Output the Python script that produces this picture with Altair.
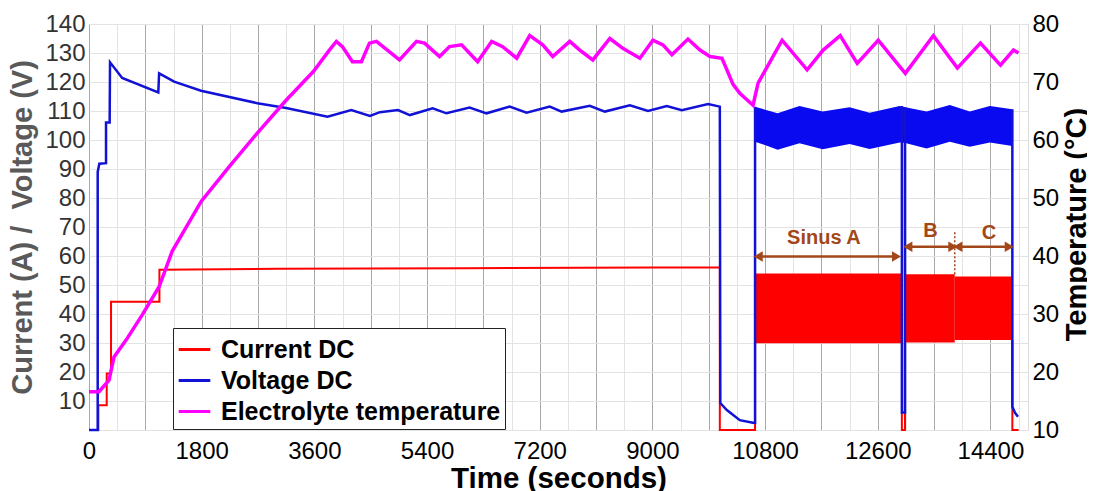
import altair as alt
import pandas as pd

# ---------------- data ----------------
# Current DC, line part (A); seg separates disconnected pieces
cur_t = [0, 149, 149, 283, 283, 352, 352, 1125, 1125, 3000, 6000, 9000, 10077, 10077, 10640, 10640,
         12985, 12985, 13035, 13035,
         14750, 14750, 14850]
cur_v = [0, 0, 8.5, 8.5, 19.5, 19.5, 44.2, 44.2, 55.3, 55.6, 55.8, 56.0, 56.0, 0, 0, 30,
         6, 0, 0, 6,
         31, 0, 0]
cur_seg = [1] * 16 + [2] * 4 + [3] * 3

# Current sinus bands (A)
band_name = ["Sinus A", "B", "C"]
band_t0 = [10640, 13035, 13830]
band_t1 = [12985, 13830, 14750]
band_lo = [29.9, 30.2, 31.0]
band_hi = [54.0, 53.7, 52.9]

# Voltage DC, line part (V)
volt_t = [0, 139, 139, 165, 272, 272, 330, 336, 530, 1107, 1120, 1360, 1790, 2690, 3150, 3810,
          4190, 4488, 4647, 4935, 5126, 5490, 5710, 6080, 6350, 6720, 6990, 7360, 7550, 8000,
          8240, 8640, 8930, 9230, 9470, 9890, 10077, 10085, 10189, 10396, 10604, 10640, 10640,
          12985, 12985, 13035, 13035,
          14750, 14750, 14790, 14840]
volt_v = [0, 0, 89, 91.8, 92, 106, 106, 126.8, 121.4, 116.4, 123, 120.1, 117, 112.7, 111, 108,
          110.3, 108.3, 109.6, 110.3, 108.6, 110.9, 109.2, 111.2, 109.2, 111.5, 109.4, 111.5, 109.8, 111.8,
          109.8, 112.0, 110.0, 111.7, 110.3, 112.4, 111.5, 9.3, 6.9, 3.4, 2.5, 2.5, 111.5,
          111.7, 6, 6, 111.3,
          110.6, 8, 6, 4.6]
volt_seg = [1] * 43 + [2] * 4 + [3] * 4

# Voltage sinus envelope (V)
vb_t = [10640, 10830, 11000, 11350, 11720, 12150, 12470, 12950, 13040, 13380, 13750, 14070, 14390, 14750]
vb_top = [111.5, 110.3, 109.2, 111.7, 109.8, 111.3, 109.4, 111.7, 111.3, 109.8, 112.1, 109.8, 111.7, 110.6]
vb_bot = [99.4, 98.0, 96.6, 98.9, 96.8, 98.6, 96.9, 99.1, 99.0, 97.1, 99.4, 97.7, 99.1, 97.9]

# Electrolyte temperature (°C)
temp_t = [0, 160, 320, 400, 592, 848, 1120, 1328, 1792, 2240, 2688, 3152, 3584, 3840, 3952, 4048,
          4208, 4352, 4480, 4592, 4960, 5232, 5360, 5600, 5760, 5952, 6208, 6432, 6608, 6832,
          7040, 7248, 7408, 7680, 7840, 8048, 8320, 8528, 8800, 9008, 9168, 9312, 9568, 9760,
          9920, 10112, 10288, 10400, 10608, 10688, 11072, 11472, 11728, 12000, 12272, 12608,
          13040, 13488, 13872, 14240, 14560, 14768, 14848]
temp_v = [16.6, 16.6, 18.6, 22.6, 25.5, 29.8, 34.7, 40.8, 49.4, 55.4, 61.2, 66.9, 71.8, 75.5, 77.0, 76.1,
          73.5, 73.5, 76.7, 77.0, 73.8, 77.0, 76.7, 74.4, 76.1, 76.4, 73.5, 77.0, 76.1, 74.1,
          78.0, 76.4, 74.4, 77.0, 75.5, 73.8, 77.5, 75.8, 74.1, 77.2, 76.4, 74.7, 77.4, 75.5,
          74.4, 74.1, 69.6, 68.0, 66.0, 69.8, 77.2, 72.1, 75.5, 78.0, 73.2, 77.2,
          71.5, 78.0, 72.4, 76.7, 72.9, 75.5, 75.0]

# Annotations (left-axis units)
arr_t0 = [10690, 13080, 13880]
arr_t1 = [12900, 13800, 14700]
arr_y = [59.8, 63.2, 63.2]
lab_text = ["Sinus A", "B", "C"]
lab_t = [11740, 13440, 14375]
lab_y = [66.2, 68.6, 67.8]
div_t = [13830]
div_y0 = [53.7]
div_y1 = [68.8]

series_names = ["Current DC", "Voltage DC", "Electrolyte temperature"]
x_ticks = list(range(0, 15000, 450))

# ---------------- tables ----------------
df_cur = pd.DataFrame({"t": cur_t, "v": cur_v, "seg": cur_seg, "i": range(len(cur_t)),
                       "series": series_names[0]})
df_volt = pd.DataFrame({"t": volt_t, "v": volt_v, "seg": volt_seg, "i": range(len(volt_t)),
                        "series": series_names[1]})
df_temp = pd.DataFrame({"t": temp_t, "v": temp_v, "i": range(len(temp_t)), "series": series_names[2]})
df_band = pd.DataFrame({"name": band_name, "t0": band_t0, "t1": band_t1, "lo": band_lo, "hi": band_hi})
df_vb = pd.DataFrame({"t": vb_t, "top": vb_top, "bot": vb_bot})
df_arr = pd.DataFrame({"t0": arr_t0, "t1": arr_t1, "y": arr_y})
df_lab = pd.DataFrame({"t": lab_t, "y": lab_y, "text": lab_text})
df_div = pd.DataFrame({"t": div_t, "y0": div_y0, "y1": div_y1})

# ---------------- styling ----------------
FONT = "Liberation Sans"
RED = "#ff0000"
BLUE = "#1212d6"
MAG = "#ff00ff"
BROWN = "#a3471a"

xscale = alt.Scale(domain=[0, 15000], nice=False, zero=False)
xaxis = alt.Axis(
    title="Time (seconds)", values=x_ticks, format="d",
    labelExpr="datum.value % 1800 === 0 ? datum.label : ''",
    gridColor={"condition": {"test": "datum.value % 900 === 0", "value": "#a8a8a8"}, "value": "#e3e3e3"},
    gridWidth=1, ticks=False, domain=False, labelPadding=9, labelFlush=False,
    labelFontSize=24, labelColor="black", titleFontSize=29.5, titleColor="black", titlePadding=1,
)
yl_scale = alt.Scale(domain=[0, 140], nice=False, zero=False)
yl_axis = alt.Axis(
    title="Current (A) /\u00a0 Voltage (V)", values=list(range(0, 141, 10)),
    labelExpr="datum.value === 0 ? '' : datum.label",
    gridColor="#e3e3e3", gridWidth=1, ticks=False, domain=False, labelPadding=4,
    labelFontSize=24, labelColor="#333333", titleFontSize=29, titleColor="#595959",
    titleAngle=270, titleX=-67, titleY=203, titleBaseline="middle", titleAlign="center",
)
yr_scale = alt.Scale(domain=[10, 80], nice=False, zero=False)
yr_axis = alt.Axis(
    orient="right", title="Temperature (°C)", values=list(range(10, 81, 10)), grid=False,
    ticks=False, domain=False, labelPadding=4,
    labelFontSize=24, labelColor="black", titleFontSize=29, titleColor="black",
    titleAngle=270, titleX=48, titleY=200, titleBaseline="middle", titleAlign="center",
)
cscale = alt.Scale(domain=series_names, range=[RED, BLUE, MAG])
legend = alt.Legend(
    title=None, orient="none", legendX=84, legendY=304, direction="vertical",
    symbolType="stroke", symbolStrokeWidth=3, symbolSize=1000,
    labelFont=FONT, labelFontSize=25, labelFontWeight="bold", labelColor="black", labelLimit=500,
    strokeColor="#222222", fillColor="white", padding=4, rowPadding=0, labelOffset=9,
)

# ---------------- layers ----------------
cur_band = alt.Chart(df_band).mark_rect(color=RED).encode(
    x=alt.X("t0:Q", scale=xscale, axis=xaxis), x2="t1:Q",
    y=alt.Y("lo:Q", scale=yl_scale, axis=yl_axis), y2="hi:Q")

cur_line = alt.Chart(df_cur).mark_line(strokeWidth=2).encode(
    x=alt.X("t:Q", scale=xscale, axis=xaxis),
    y=alt.Y("v:Q", scale=yl_scale, axis=yl_axis),
    detail="seg:N", order="i:Q",
    color=alt.Color("series:N", scale=cscale, legend=legend))

volt_band = alt.Chart(df_vb).mark_area(color="#0a0af0", opacity=1).encode(
    x=alt.X("t:Q", scale=xscale, axis=xaxis),
    y=alt.Y("top:Q", scale=yl_scale, axis=yl_axis), y2="bot:Q")

volt_line = alt.Chart(df_volt).mark_line(strokeWidth=2.5).encode(
    x=alt.X("t:Q", scale=xscale, axis=xaxis),
    y=alt.Y("v:Q", scale=yl_scale, axis=yl_axis),
    detail="seg:N", order="i:Q",
    color=alt.Color("series:N", scale=cscale, legend=legend))

arrows = alt.Chart(df_arr).mark_rule(color=BROWN, strokeWidth=2.5).encode(
    x=alt.X("t0:Q", scale=xscale, axis=xaxis), x2="t1:Q",
    y=alt.Y("y:Q", scale=yl_scale, axis=yl_axis))
head_l = alt.Chart(df_arr).mark_point(shape="triangle-left", filled=True, color=BROWN, size=110, opacity=1).encode(
    x=alt.X("t0:Q", scale=xscale, axis=xaxis),
    y=alt.Y("y:Q", scale=yl_scale, axis=yl_axis))
head_r = alt.Chart(df_arr).mark_point(shape="triangle-right", filled=True, color=BROWN, size=110, opacity=1).encode(
    x=alt.X("t1:Q", scale=xscale, axis=xaxis),
    y=alt.Y("y:Q", scale=yl_scale, axis=yl_axis))
labels = alt.Chart(df_lab).mark_text(font=FONT, fontSize=20, fontWeight="bold", color=BROWN).encode(
    x=alt.X("t:Q", scale=xscale, axis=xaxis),
    y=alt.Y("y:Q", scale=yl_scale, axis=yl_axis), text="text:N")
divider = alt.Chart(df_div).mark_rule(color=BROWN, strokeWidth=1.5, strokeDash=[2, 2]).encode(
    x=alt.X("t:Q", scale=xscale, axis=xaxis),
    y=alt.Y("y0:Q", scale=yl_scale, axis=yl_axis), y2="y1:Q")

left = alt.layer(cur_band, cur_line, volt_band, volt_line, arrows, head_l, head_r, labels, divider)

temp_line = alt.Chart(df_temp).mark_line(strokeWidth=3.5).encode(
    x=alt.X("t:Q", scale=xscale, axis=xaxis),
    y=alt.Y("v:Q", scale=yr_scale, axis=yr_axis),
    order="i:Q",
    color=alt.Color("series:N", scale=cscale, legend=legend))

chart = alt.layer(left, temp_line).resolve_scale(y="independent").properties(
    width=939, height=406,
    padding={"left": 81, "top": 16, "right": 59, "bottom": 66},
    autosize=alt.AutoSizeParams(type="none"),
).configure_view(stroke="#8c8c8c", strokeWidth=1.5).configure_axis(
    labelFont=FONT, titleFont=FONT, labelFontWeight="bold", titleFontWeight="bold",
).configure(background="white")

chart.save("out.html", embed_options={"renderer": "svg", "actions": False})
